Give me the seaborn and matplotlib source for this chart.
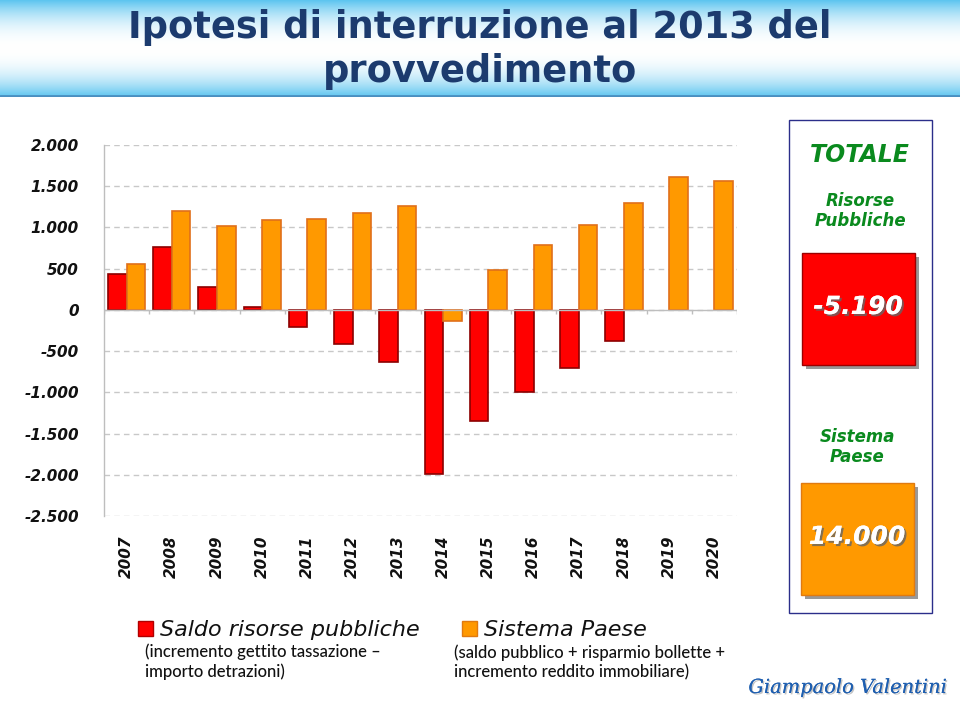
import numpy as np
import pandas as pd
import matplotlib
matplotlib.use("Agg")
import matplotlib.pyplot as plt
import matplotlib.patheffects as pe
from matplotlib.patches import Rectangle
from matplotlib.ticker import FuncFormatter
import seaborn as sns

# ---------------- data ----------------
years = ["2007", "2008", "2009", "2010", "2011", "2012", "2013",
         "2014", "2015", "2016", "2017", "2018", "2019", "2020"]
saldo_risorse = [433, 760, 275, 32, -202, -416, -638,
                 -1990, -1342, -998, -703, -372, 0, 0]
sistema_paese = [558, 1204, 1018, 1091, 1103, 1172, 1261,
                 -130, 485, 788, 1030, 1301, 1612, 1560]
series_names = ["Saldo risorse pubbliche", "Sistema Paese"]
totale_risorse = "-5.190"
totale_sistema = "14.000"

title_lines = ["Ipotesi di interruzione al 2013 del", "provvedimento"]
legend_notes = ["(incremento gettito tassazione \u2013\nimporto detrazioni)",
                "(saldo pubblico + risparmio bollette +\nincremento reddito immobiliare)"]

RED = "#FF0000"
RED_EDGE = "#8B0000"
ORANGE = "#FF9900"
ORANGE_EDGE = "#E0701A"
GREEN = "#0A8A1E"
NAVY = "#1C3B6E"

df = pd.DataFrame({
    "year": years * 2,
    "value": saldo_risorse + sistema_paese,
    "serie": [series_names[0]] * len(years) + [series_names[1]] * len(years),
})

sns.set_theme(style="white")
plt.rcParams["font.family"] = ["DejaVu Sans"]

W, H = 960, 716
fig = plt.figure(figsize=(W / 100, H / 100), dpi=100)
fig.patch.set_facecolor("white")


def fx(x):
    return x / W


def fy(y):
    return 1 - y / H


# title band gradient
band = fig.add_axes([0, 1 - 97 / H, 1, 97 / H], zorder=0)
grad = np.abs(np.linspace(-1, 1, 200)) ** 2.2
top = np.array([0.36, 0.77, 0.94])
col = np.ones((200, 1, 3)) * (1 - grad[:, None, None]) + grad[:, None, None] * top
band.imshow(np.repeat(col, 10, axis=1), aspect="auto", extent=[0, 1, 0, 1])
band.axhline(0.01, color="#4A8FC0", lw=2)
band.set_axis_off()
fig.text(0.5, fy(28), title_lines[0], ha="center", va="center", family="DejaVu Sans",
         fontsize=26.5, fontweight="bold", color=NAVY)
fig.text(0.5, fy(72), title_lines[1], ha="center", va="center", family="DejaVu Sans",
         fontsize=26.5, fontweight="bold", color=NAVY)

# main axes
ax = fig.add_axes([104 / W, (H - 516) / H, (737 - 104) / W, (516 - 145) / H])
sns.barplot(data=df, x="year", y="value", hue="serie", order=years,
            palette=[RED, ORANGE], width=0.82, dodge=True, ax=ax,
            legend=False, linewidth=1.2, saturation=1)
for cont, ec in zip(ax.containers, [RED_EDGE, ORANGE_EDGE]):
    for bar in cont:
        bar.set_edgecolor(ec)
        bar.set_linewidth(1.2)
        if bar.get_height() == 0:
            bar.set_visible(False)

ax.set_ylim(-2500, 2000)
ax.set_xlim(-0.5, len(years) - 0.5)
ax.set_yticks(np.arange(-2500, 2001, 500))
ax.yaxis.set_major_formatter(FuncFormatter(lambda v, p: f"{int(v):,}".replace(",", ".")))
ax.yaxis.grid(True, color="#C8C8C8", linestyle=(0, (4, 3)), linewidth=1)
ax.set_axisbelow(True)
for s in ["top", "right", "bottom"]:
    ax.spines[s].set_visible(False)
ax.spines["left"].set_color("#BEBEBE")
ax.spines["left"].set_linewidth(1)
ax.axhline(0, color="#BEBEBE", lw=1, zorder=1)
ax.vlines(np.arange(-0.5, len(years)), -45, 0, color="#BEBEBE", lw=1, zorder=1)
ax.tick_params(axis="y", length=0, pad=18)
ax.tick_params(axis="x", length=0, pad=14)
for lab in ax.get_yticklabels():
    lab.set_family("DejaVu Sans")
    lab.set_fontweight("bold")
    lab.set_fontstyle("italic")
    lab.set_fontsize(11)
    lab.set_color("#111111")
ax.set_xticks(range(len(years)))
ax.set_xticklabels(years, rotation=90, fontsize=11, fontweight="bold", family="DejaVu Sans",
                   fontstyle="italic", color="#111111")
ax.set_xlabel("")
ax.set_ylabel("")

# right summary panel
fig.patches.append(Rectangle((fx(789), fy(613)), fx(932 - 789), (613 - 120) / H,
                             transform=fig.transFigure, fill=False,
                             edgecolor="#2B2E8A", lw=1))
fig.text(fx(860), fy(155), "TOTALE", ha="center", va="center", fontsize=17,
         family="DejaVu Sans", fontweight="bold", fontstyle="italic", color=GREEN)
fig.text(fx(860), fy(211), "Risorse\nPubbliche", ha="center", va="center",
         fontsize=12, family="DejaVu Sans", fontweight="bold", fontstyle="italic",
         color=GREEN, linespacing=1.1)
shadow = [pe.withSimplePatchShadow(offset=(3, -3), shadow_rgbFace="#555555", alpha=0.6)]
for (x0, y0, y1, c, ec, txt) in [(802, 253, 365, RED, "#9B0000", totale_risorse),
                                 (801, 483, 595, ORANGE, "#E07A10", totale_sistema)]:
    r = Rectangle((fx(x0), fy(y1)), fx(113), (y1 - y0) / H, transform=fig.transFigure,
                  facecolor=c, edgecolor=ec, lw=1, path_effects=shadow)
    fig.patches.append(r)
    fig.text(fx(x0 + 56), fy((y0 + y1) / 2 - 2), txt, ha="center", va="center",
             fontsize=18, family="DejaVu Sans", fontweight="bold", fontstyle="italic",
             color="white",
             path_effects=[pe.withSimplePatchShadow(offset=(1.5, -1.5),
                                                    shadow_rgbFace="#666666", alpha=0.8),
                           pe.Normal()])
fig.text(fx(857), fy(447), "Sistema\nPaese", ha="center", va="center",
         fontsize=12, family="DejaVu Sans", fontweight="bold", fontstyle="italic",
         color=GREEN, linespacing=1.1)

# legend below
for (x0, c, ec, name, note, tx) in [(138, RED, "#B00000", series_names[0], legend_notes[0], 145),
                                    (462, ORANGE, "#E07A10", series_names[1], legend_notes[1], 454)]:
    fig.patches.append(Rectangle((fx(x0), fy(636)), fx(15), 15 / H,
                                 transform=fig.transFigure, facecolor=c,
                                 edgecolor=ec, lw=1))
    fig.text(fx(x0 + 22), fy(630), name, ha="left", va="center", fontsize=16,
             family="DejaVu Sans", fontstyle="italic", color="#111111")
    fig.text(fx(tx), fy(662), note, ha="left", va="center", fontsize=12,
             family="Lato", fontweight="medium",
             color="#111111", linespacing=1.25)

# signature
fig.text(fx(848), fy(688), "Giampaolo Valentini", ha="center", va="center",
         fontsize=14, fontstyle="italic", family="DejaVu Serif", color="#1F5FB0",
         path_effects=[pe.withSimplePatchShadow(offset=(1, -1), shadow_rgbFace="#AAAAAA",
                                                alpha=0.7), pe.Normal()])

fig.savefig("out.png", dpi=100)
